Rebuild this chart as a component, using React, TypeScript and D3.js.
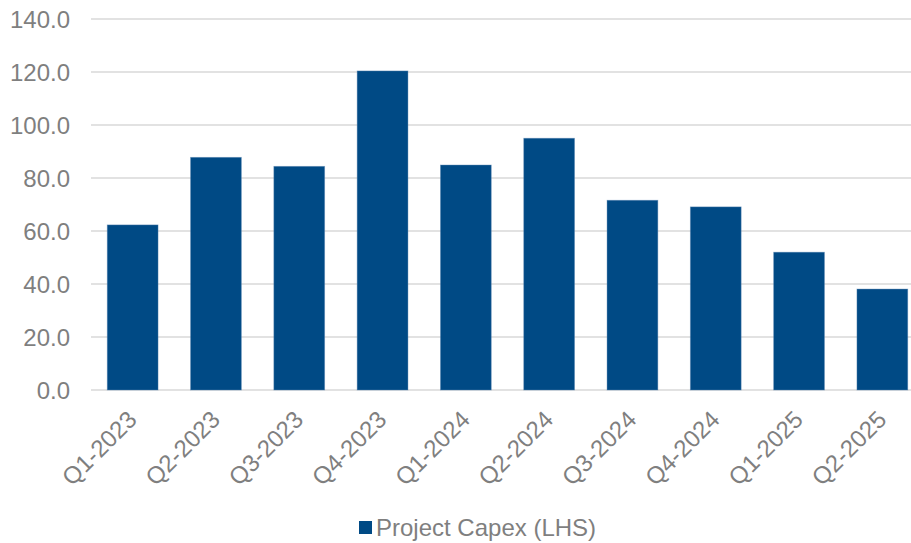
import React from "react";
import * as d3 from "d3";

const categories = ["Q1-2023","Q2-2023","Q3-2023","Q4-2023","Q1-2024","Q2-2024","Q3-2024","Q4-2024","Q1-2025","Q2-2025"];
const capex = [62.3, 87.8, 84.4, 120.4, 84.9, 95.0, 71.6, 69.1, 52.0, 38.1];
const yTicks = [0, 20, 40, 60, 80, 100, 120, 140];
const seriesName = "Project Capex (LHS)";

const W = 911, H = 543;
const left = 91, right = 924, top = 19, bottom = 390;
const font = "'Liberation Sans', Arial, sans-serif";
const textColor = "#7F7F7F";
const barColor = "#004A85";

export default function App() {
  const x = d3.scaleBand().domain(categories).range([left, right]).paddingInner(0.39).paddingOuter(0.195);
  const y = d3.scaleLinear().domain([0, 140]).range([bottom, top]);
  return (
    <svg width={W} height={H} style={{ position: "absolute", left: 0, top: 0, background: "#fff" }} fontFamily={font}>
      <rect x={0} y={0} width={W} height={H} fill="#fff" />
      {yTicks.map((t) => (
        <g key={t}>
          <line x1={left} x2={right} y1={y(t)} y2={y(t)} stroke="#D9D9D9" strokeWidth={1.5} />
          <text x={70} y={y(t)} dy="0.36em" textAnchor="end" fontSize={24} fill={textColor}>{t.toFixed(1)}</text>
        </g>
      ))}
      {categories.map((c, i) => (
        <rect key={c} x={x(c)} y={y(capex[i])} width={x.bandwidth()} height={y(0) - y(capex[i])} fill={barColor} stroke="#5C88B4" strokeOpacity={0.5} strokeWidth={0.8} />
      ))}
      {categories.map((c) => {
        const cx = (x(c) as number) + x.bandwidth() / 2;
        return (
          <text key={c} transform={`translate(${cx + 5.5},${421}) rotate(-45)`} textAnchor="end" fontSize={24} fill={textColor}>{c}</text>
        );
      })}
      <rect x={359} y={521} width={13} height={13} fill={barColor} />
      <text x={376} y={536} fontSize={24} fill={textColor}>{seriesName}</text>
    </svg>
  );
}
